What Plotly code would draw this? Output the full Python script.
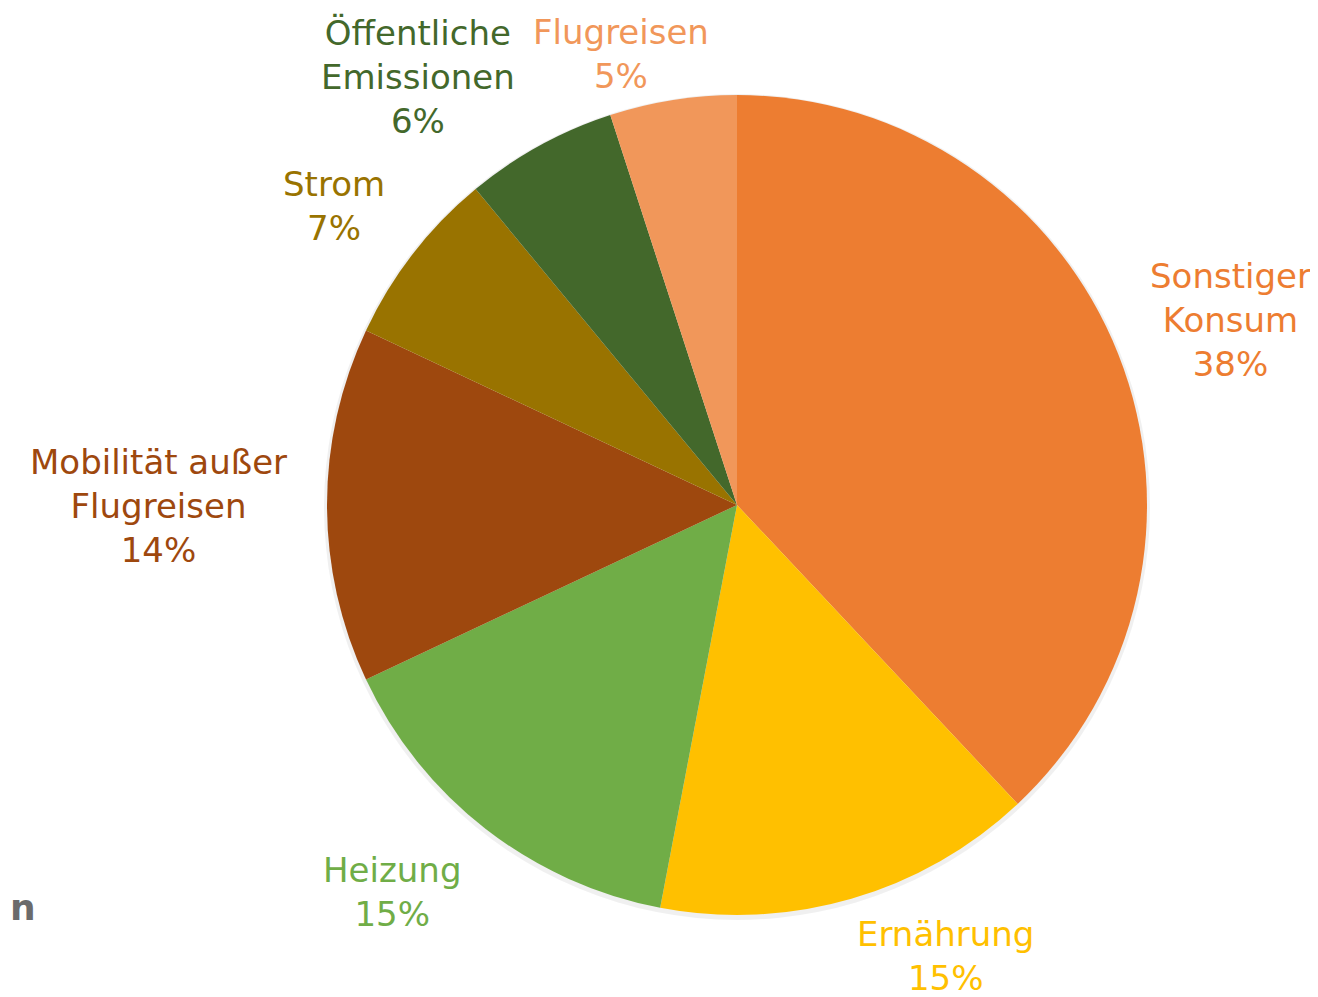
import plotly.graph_objects as go

# Data
categories = ["Sonstiger Konsum", "Ernährung", "Heizung", "Mobilität außer Flugreisen",
              "Strom", "Öffentliche Emissionen", "Flugreisen"]
label_lines = ["Sonstiger<br>Konsum", "Ernährung", "Heizung", "Mobilität außer<br>Flugreisen",
               "Strom", "Öffentliche<br>Emissionen", "Flugreisen"]
values = [38, 15, 15, 14, 7, 6, 5]
colors = ["#ED7D31", "#FFC000", "#70AD47", "#9E480E", "#997300", "#43682B", "#F1975A"]

OFF = 8  # page body margin
W, H = 1318 - OFF, 997 - OFF
cx, cy, r = 737 - OFF, 505 - OFF, 410


def px(x):
    return (x - OFF) / W


def py(y):
    return 1 - (y - OFF) / H


# label centre positions in page pixels (layout)
label_pos = [(1230, 320), (945, 956), (392, 892), (158, 506), (334, 206), (418, 77), (621, 54)]

fig = go.Figure()
# soft shadow
fig.add_trace(go.Pie(
    values=[1], marker=dict(colors=["rgba(0,0,0,0.06)"], line=dict(width=0)),
    textinfo="none", hoverinfo="skip", showlegend=False, sort=False,
    domain=dict(x=[(cx - r - 3) / W, (cx + r + 3) / W], y=[1 - (cy + r + 5) / H, 1 - (cy - r - 1) / H]),
))
fig.add_trace(go.Pie(
    labels=categories, values=values, sort=False, direction="clockwise", rotation=0,
    marker=dict(colors=colors, line=dict(width=0)),
    textinfo="none", showlegend=False,
    domain=dict(x=[(cx - r) / W, (cx + r) / W], y=[1 - (cy + r) / H, 1 - (cy - r) / H]),
))

for txt, v, col, (lx, ly) in zip(label_lines, values, colors, label_pos):
    fig.add_annotation(
        text=f"{txt}<br>{v}%", x=px(lx), y=py(ly), xref="paper", yref="paper",
        xanchor="center", yanchor="middle", showarrow=False, align="center",
        font=dict(family="DejaVu Sans", size=34, color=col),
    )

fig.add_annotation(text="<b>n</b>", x=0, y=py(907), xref="paper", yref="paper",
                   xanchor="left", yanchor="middle", showarrow=False,
                   font=dict(family="DejaVu Sans", size=36, color="#6b6b6b"))

fig.update_layout(width=W, height=H, margin=dict(l=0, r=0, t=0, b=0),
                  paper_bgcolor="white", plot_bgcolor="white")
fig.write_html("out.html")
